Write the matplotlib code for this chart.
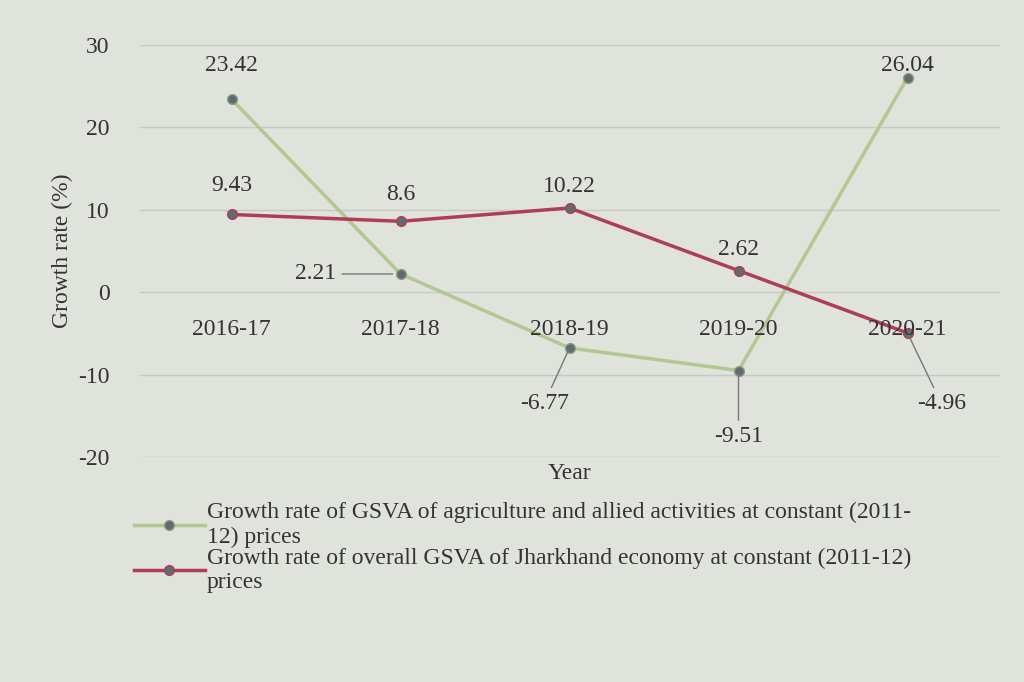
import matplotlib.pyplot as plt
import numpy as np

years = ['2016-17', '2017-18', '2018-19', '2019-20', '2020-21']
agri = [23.42, 2.21, -6.77, -9.51, 26.04]
overall = [9.43, 8.6, 10.22, 2.62, -4.96]
agri_name = 'Growth rate of GSVA of agriculture and allied activities at constant (2011-\n12) prices'
overall_name = 'Growth rate of overall GSVA of Jharkhand economy at constant (2011-12)\nprices'

plt.rcParams['font.family'] = ['Liberation Serif', 'DejaVu Serif']
plt.rcParams['axes.unicode_minus'] = False
bg = '#dfe3dc'
fs = 17
fig = plt.figure(figsize=(10.24, 6.82), dpi=100, facecolor=bg)
ax = fig.add_axes([0.137, 0.33, 0.84, 0.604], facecolor=bg)

x = np.arange(len(years))
ax.plot(x, agri, color='#b3c88e', lw=2.5, marker='o', ms=7, mfc='#5f6b70', mec='#8a9a7a', label=agri_name)
ax.plot(x, overall, color='#b03c58', lw=2.5, marker='o', ms=7, mfc='#5f6b70', mec='#b03c58', label=overall_name)

ax.set_ylim(-20, 30)
ax.set_xlim(-0.54, 4.55)
ax.set_yticks([-20, -10, 0, 10, 20, 30])
ax.tick_params(axis='y', length=0, labelsize=fs, colors='#333333', pad=22)
ax.set_xticks([])
for s in ax.spines.values():
    s.set_visible(False)
ax.grid(axis='y', color='#c6c9c4', lw=1)
ax.set_axisbelow(True)
ax.set_ylabel('Growth rate (%)', fontsize=fs, color='#333333', labelpad=4)
for i, yr in enumerate(years):
    ax.text(i, -4.5, yr, ha='center', va='center', fontsize=fs, color='#333333')
ax.text(2, -22, 'Year', ha='center', va='center', fontsize=fs, color='#333333')

lab = dict(fontsize=fs, color='#333333', ha='center', va='center')
ax.text(0, 27.5, '23.42', **lab)
ax.text(4, 27.5, '26.04', **lab)
ax.text(0, 13, '9.43', **lab)
ax.text(1, 11.8, '8.6', **lab)
ax.text(2, 12.8, '10.22', **lab)
ax.text(3, 5.2, '2.62', **lab)
ax.annotate('2.21', (0.97, 2.21), xytext=(0.5, 2.21), arrowprops=dict(arrowstyle='-', color='#777777', lw=1), **lab)
ax.annotate('-6.77', (2, -6.77), xytext=(1.85, -13.5), arrowprops=dict(arrowstyle='-', color='#777777', lw=1), **lab)
ax.annotate('-9.51', (3, -9.51), xytext=(3.0, -17.5), arrowprops=dict(arrowstyle='-', color='#777777', lw=1), **lab)
ax.annotate('-4.96', (4, -4.96), xytext=(4.2, -13.5), arrowprops=dict(arrowstyle='-', color='#777777', lw=1), **lab)

fig.legend(loc='upper left', bbox_to_anchor=(0.11, 0.295), frameon=False, fontsize=fs,
           handlelength=3.0, handletextpad=0.1, labelspacing=0.0, labelcolor='#333333')

fig.savefig('out.png', dpi=100, facecolor=bg)
